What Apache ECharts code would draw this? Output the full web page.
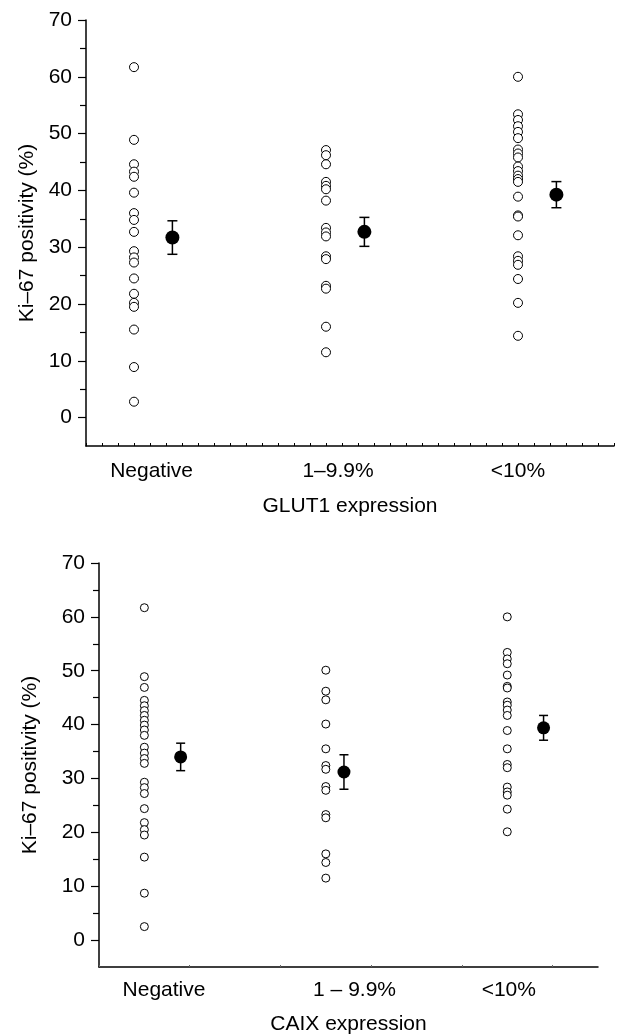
<!DOCTYPE html>
<html>
<head>
<meta charset="utf-8">
<script src="https://cdn.jsdelivr.net/npm/echarts@6/dist/echarts.min.js"></script>
<style>
  html, body { margin: 0; padding: 0; background: #fff; }
  #chart { width: 618px; height: 1034px; }
</style>
</head>
<body>
<div id="chart"></div>
<script>
// Ki-67 positivity (%) per patient
const glutNegative = [61.7, 48.9, 44.6, 43.3, 42.4, 39.6, 36.0, 34.8, 32.7, 29.3, 28.2, 27.3, 24.5, 21.8, 20.2, 19.5, 15.5, 8.9, 2.8];
const glutLow = [47.1, 46.2, 44.6, 41.5, 40.8, 40.2, 38.2, 33.4, 32.6, 31.9, 28.4, 27.9, 23.2, 22.7, 16.0, 11.5];
const glutHigh = [60.0, 53.4, 52.4, 51.3, 50.3, 49.2, 47.2, 46.5, 45.8, 44.2, 43.4, 42.6, 42.0, 41.5, 38.9, 35.6, 35.4, 32.1, 28.4, 27.6, 26.9, 24.4, 20.2, 14.4];
const glutMeans = [31.7, 32.7, 39.25];
const glutErrors = [2.95, 2.55, 2.3];

const caixNegative = [61.7, 48.9, 46.9, 44.5, 43.5, 42.6, 41.7, 40.8, 39.9, 39.0, 38.0, 35.8, 34.7, 33.7, 32.8, 29.3, 28.3, 27.2, 24.4, 21.8, 20.5, 19.5, 15.4, 8.7, 2.5];
const caixLow = [50.1, 46.2, 44.6, 40.1, 35.5, 32.4, 31.7, 28.5, 27.8, 23.3, 22.7, 16.0, 14.4, 11.5];
const caixHigh = [60.0, 53.4, 52.2, 51.3, 49.2, 47.1, 46.8, 44.2, 43.6, 42.7, 41.7, 38.9, 35.5, 32.6, 32.0, 28.4, 27.5, 26.9, 24.3, 20.1];
const caixMeans = [34.0, 31.2, 39.4];
const caixErrors = [2.55, 3.2, 2.3];

const glutLabels = ['Negative', '1\u20139.9%', '<10%'];
const caixLabels = ['Negative', '1 \u2013 9.9%', '<10%'];
const yLabels = [0, 10, 20, 30, 40, 50, 60, 70];
const yMinor = [5, 15, 25, 35, 45, 55, 65];

// x runs in twelfths of a category step; groups sit at 12, 24, 36
const STEP = 12;
const glutMeanOffset = [2.4, 2.4, 2.4];
const caixMeanOffset = [2.4, 1.2, 2.4];
const glutLabelX = [13.1, 24.75, 36.0];
const caixLabelX = [13.3, 25.9, 36.1];

const FONT = '"Liberation Sans", Arial, Helvetica, sans-serif';
const INK = '#000';

const chart = echarts.init(document.getElementById('chart'));

function groupPoints(groups) {
  const out = [];
  groups.forEach((vals, i) => vals.forEach(v => out.push([(i + 1) * STEP, v])));
  return out;
}

function meanPoints(means, errs, offsets) {
  return means.map((m, i) => [(i + 1) * STEP + offsets[i], m, errs[i]]);
}

function xAxisFor(gridIndex, labels, labelX, name, nameGap, tickOpt, labelMargin) {
  return {
    type: 'value', gridIndex, min: 9, max: 42, interval: 1,
    name, nameLocation: 'middle', nameGap,
    nameTextStyle: { fontFamily: FONT, fontSize: 21, color: INK },
    axisLine: { show: true, onZero: false, lineStyle: { color: INK, width: 1.5 } },
    axisTick: tickOpt,
    splitLine: { show: false },
    axisLabel: {
      customValues: labelX, margin: labelMargin,
      fontFamily: FONT, fontSize: 21, color: INK,
      formatter: v => {
        const i = labelX.findIndex(p => Math.abs(p - v) < 0.01);
        return i >= 0 ? labels[i] : '';
      }
    }
  };
}

function yAxesFor(gridIndex, nameGap) {
  return [{
    type: 'value', gridIndex, min: -5, max: 70, position: 'left',
    name: 'Ki\u201367 positivity (%)', nameLocation: 'middle', nameGap,
    nameTextStyle: { fontFamily: FONT, fontSize: 21, color: INK },
    axisLine: { show: true, onZero: false, lineStyle: { color: INK, width: 1.5 } },
    axisTick: { show: true, customValues: yLabels, length: 8, lineStyle: { color: INK, width: 1.2 } },
    axisLabel: { customValues: yLabels, margin: 14, fontFamily: FONT, fontSize: 21, color: INK },
    splitLine: { show: false }
  }, {
    type: 'value', gridIndex, min: -5, max: 70, position: 'left', offset: 0,
    axisLine: { show: false },
    axisTick: { show: true, customValues: yMinor, length: 6, lineStyle: { color: INK, width: 1.2 } },
    axisLabel: { show: false },
    splitLine: { show: false }
  }];
}

function errorBars(xAxisIndex, yAxisIndex, data, capHalf) {
  return {
    type: 'custom', xAxisIndex, yAxisIndex, data, z: 3,
    renderItem: (params, api) => {
      const x = api.value(0), m = api.value(1), e = api.value(2);
      const hi = api.coord([x, m + e]);
      const lo = api.coord([x, m - e]);
      const style = { stroke: INK, lineWidth: 1.5 };
      return {
        type: 'group',
        children: [
          { type: 'line', shape: { x1: hi[0], y1: hi[1], x2: lo[0], y2: lo[1] }, style },
          { type: 'line', shape: { x1: hi[0] - capHalf, y1: hi[1], x2: hi[0] + capHalf, y2: hi[1] }, style },
          { type: 'line', shape: { x1: lo[0] - capHalf, y1: lo[1], x2: lo[0] + capHalf, y2: lo[1] }, style }
        ]
      };
    }
  };
}

const option = {
  backgroundColor: '#fff',
  animation: false,
  grid: [
    { left: 86, top: 20, width: 528, height: 426, outerBoundsMode: 'none' },
    { left: 99, top: 563, width: 499, height: 404, outerBoundsMode: 'none' }
  ],
  xAxis: [
    xAxisFor(0, glutLabels, glutLabelX, 'GLUT1 expression', 50,
      { show: true, inside: true, length: 3, lineStyle: { color: INK, width: 1 } }, 15),
    xAxisFor(1, caixLabels, caixLabelX, 'CAIX expression', 47,
      { show: true, inside: true, customValues: [9, 15, 21, 27, 33, 39], length: 2, lineStyle: { color: '#666', width: 1 } }, 13)
  ],
  yAxis: [...yAxesFor(0, 48), ...yAxesFor(1, 58)],
  series: [
    {
      type: 'scatter', xAxisIndex: 0, yAxisIndex: 0, symbol: 'circle', symbolSize: 9,
      itemStyle: { color: '#fff', borderColor: INK, borderWidth: 1, opacity: 1 },
      data: groupPoints([glutNegative, glutLow, glutHigh])
    },
    errorBars(0, 0, meanPoints(glutMeans, glutErrors, glutMeanOffset), 5),
    {
      type: 'scatter', xAxisIndex: 0, yAxisIndex: 0, symbol: 'circle', symbolSize: 14, z: 4,
      itemStyle: { color: INK, opacity: 1 },
      data: meanPoints(glutMeans, glutErrors, glutMeanOffset)
    },
    {
      type: 'scatter', xAxisIndex: 1, yAxisIndex: 2, symbol: 'circle', symbolSize: 8,
      itemStyle: { color: '#fff', borderColor: INK, borderWidth: 1, opacity: 1 },
      data: groupPoints([caixNegative, caixLow, caixHigh])
    },
    errorBars(1, 2, meanPoints(caixMeans, caixErrors, caixMeanOffset), 4.5),
    {
      type: 'scatter', xAxisIndex: 1, yAxisIndex: 2, symbol: 'circle', symbolSize: 13, z: 4,
      itemStyle: { color: INK, opacity: 1 },
      data: meanPoints(caixMeans, caixErrors, caixMeanOffset)
    }
  ]
};

chart.setOption(option);
</script>
</body>
</html>
